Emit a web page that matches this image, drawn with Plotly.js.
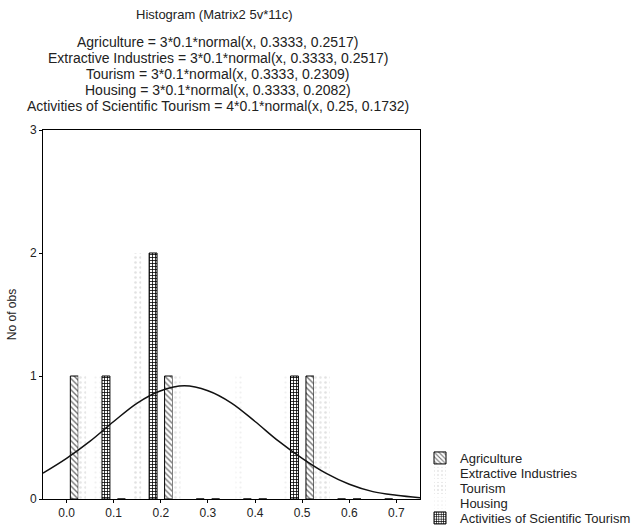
<!DOCTYPE html>
<html>
<head>
<meta charset="utf-8">
<script src="https://cdn.plot.ly/plotly-3.0.1.min.js"></script>
<style>html,body{margin:0;padding:0;background:#fff;}#chart{width:644px;height:526px;}</style>
</head>
<body>
<div id="chart"></div>
<script>
// ---- data ----
var binCenters = [0.05, 0.15, 0.25, 0.35, 0.45, 0.55, 0.65];
var seriesNames = ["Agriculture", "Extractive Industries", "Tourism", "Housing", "Activities of Scientific Tourism"];
var agriculture = [1, 0, 1, 0, 0, 1, 0];
var extractive  = [1, 0, 1, 0, 0, 1, 0];
var tourism     = [0, 2, 0, 0, 0, 1, 0];
var housing     = [1, 0, 0, 1, 1, 0, 0];
var activities  = [1, 2, 0, 0, 1, 0, 0];
// fitted normal curve for Activities of Scientific Tourism
var curveX = [-0.05, 0.0, 0.05, 0.1, 0.15, 0.2, 0.25, 0.3, 0.35, 0.4, 0.45, 0.5, 0.55, 0.6, 0.65, 0.7, 0.75];
var curveY = [0.21, 0.33, 0.47, 0.63, 0.78, 0.88, 0.92, 0.88, 0.78, 0.63, 0.47, 0.33, 0.21, 0.12, 0.06, 0.03, 0.01];
var xTicks = [0.0, 0.1, 0.2, 0.3, 0.4, 0.5, 0.6, 0.7];
var xTickText = ["0.0", "0.1", "0.2", "0.3", "0.4", "0.5", "0.6", "0.7"];
var yTicks = [0, 1, 2, 3];
var titleMain = "Histogram (Matrix2 5v*11c)";
var titleLines = [
  "Agriculture = 3*0.1*normal(x, 0.3333, 0.2517)",
  "Extractive Industries = 3*0.1*normal(x, 0.3333, 0.2517)",
  "Tourism = 3*0.1*normal(x, 0.3333, 0.2309)",
  "Housing = 3*0.1*normal(x, 0.3333, 0.2082)",
  "Activities of Scientific Tourism = 4*0.1*normal(x, 0.25, 0.1732)"
];
var yTitle = "No of obs";

// ---- layout helpers ----
var W = 644, H = 526;
var M = {l: 43, r: 221, t: 130, b: 27};
var FONT = "Liberation Sans, Arial, sans-serif";
function pxX(px){ return (px - M.l) / (W - M.l - M.r); }
function pxY(py){ return (H - M.b - py) / (H - M.t - M.b); }

var styles = [
  {pattern: {shape: "\\", fgcolor: "#777", bgcolor: "#fff", size: 4, solidity: 0.35}, line: {color: "#000", width: 1}},
  {pattern: {shape: ".", fgcolor: "#e6e6e6", bgcolor: "#fff", size: 5, solidity: 0.2}, line: {color: "#fff", width: 0}},
  {pattern: {shape: ".", fgcolor: "#e2e2e2", bgcolor: "#fff", size: 5, solidity: 0.2}, line: {color: "#fff", width: 0}},
  {pattern: {shape: ".", fgcolor: "#f0f0f0", bgcolor: "#fff", size: 5, solidity: 0.15}, line: {color: "#fff", width: 0}},
  {pattern: {shape: "+", fgcolor: "#000", bgcolor: "#fff", size: 3, solidity: 0.45}, line: {color: "#000", width: 1}}
];
var counts = [agriculture, extractive, tourism, housing, activities];
var legendRowsPx = [458, 473, 488, 503, 518];
var legendNames = ["legend", "legend2", "legend3", "legend4", "legend5"];

var traces = counts.map(function(c, i){
  return {
    type: "bar", x: binCenters, y: c, name: seriesNames[i],
    marker: {color: "#fff", pattern: styles[i].pattern, line: styles[i].line},
    legend: legendNames[i], showlegend: true, hoverinfo: "x+y+name"
  };
});
traces.push({
  type: "scatter", mode: "lines", x: curveX, y: curveY, showlegend: false,
  line: {color: "#111", width: 1.5, shape: "spline"}, hoverinfo: "skip"
});

var annotations = [{
  text: titleMain, xref: "paper", yref: "paper", x: pxX(216), y: pxY(15),
  xanchor: "center", yanchor: "middle", showarrow: false,
  font: {family: FONT, size: 13, color: "#222"}
}];
var linePx = [42, 58, 74, 90, 106];
titleLines.forEach(function(t, i){
  annotations.push({
    text: t, xref: "paper", yref: "paper", x: pxX(219), y: pxY(linePx[i]),
    xanchor: "center", yanchor: "middle", showarrow: false,
    font: {family: FONT, size: 14, color: "#222"}
  });
});

var layout = {
  width: W, height: H,
  margin: M,
  paper_bgcolor: "#fff", plot_bgcolor: "#fff",
  font: {family: FONT, size: 12, color: "#222"},
  barmode: "group", bargap: 0.16, bargroupgap: 0,
  xaxis: {
    range: [-0.05, 0.75], tickvals: xTicks, ticktext: xTickText,
    showgrid: false, zeroline: false, showline: true, mirror: true,
    linecolor: "#000", linewidth: 1, ticks: "outside", ticklen: 3, tickcolor: "#000",
    tickfont: {family: FONT, size: 12, color: "#222"}, fixedrange: true
  },
  yaxis: {
    range: [0, 3], tickvals: yTicks,
    showgrid: false, zeroline: false, showline: true, mirror: true,
    linecolor: "#000", linewidth: 1, ticks: "outside", ticklen: 3, tickcolor: "#000",
    tickfont: {family: FONT, size: 12, color: "#222"},
    title: {text: yTitle, font: {family: FONT, size: 12, color: "#222"}, standoff: 10},
    fixedrange: true
  },
  annotations: annotations,
  showlegend: true
};
legendNames.forEach(function(ln, i){
  layout[ln] = {
    xref: "container", yref: "container",
    x: 420 / W, y: 1 - legendRowsPx[i] / H, xanchor: "left", yanchor: "middle",
    bgcolor: "rgba(0,0,0,0)", borderwidth: 0,
    font: {family: FONT, size: 13, color: "#222"}
  };
});

Plotly.newPlot("chart", traces, layout, {displayModeBar: false, staticPlot: true});
</script>
</body>
</html>
